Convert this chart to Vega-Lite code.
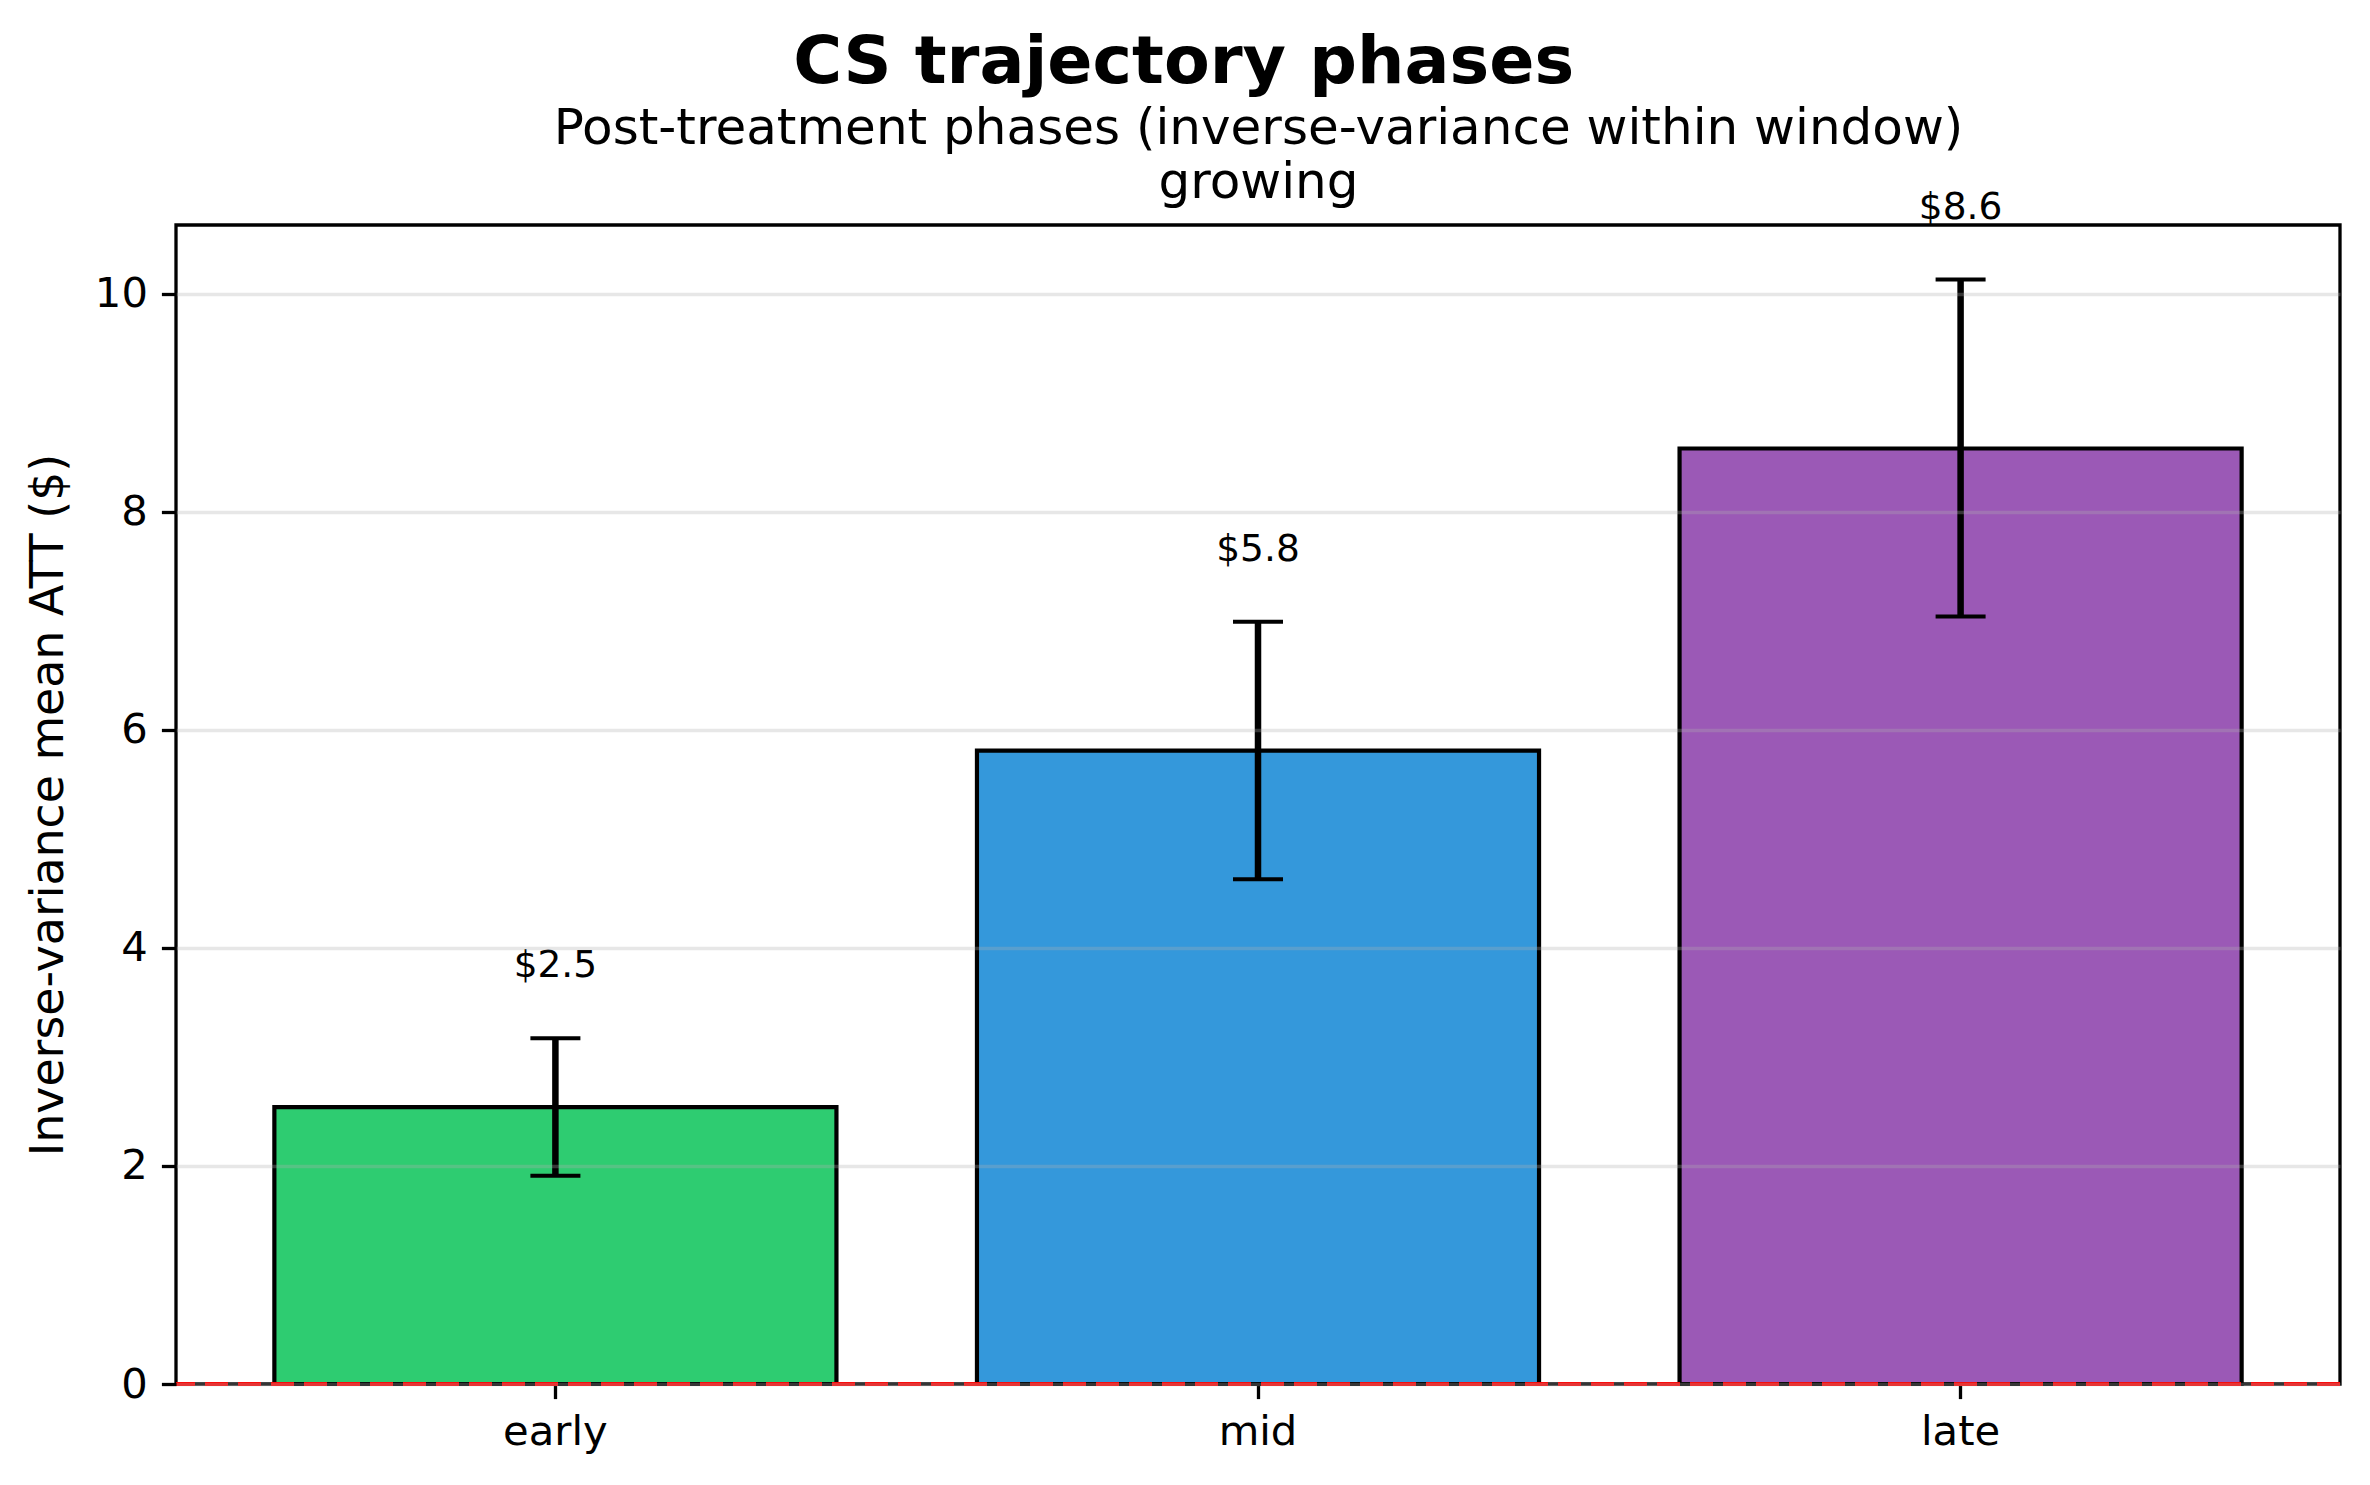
{
  "$schema": "https://vega.github.io/schema/vega-lite/v6.json",
  "width": 2164,
  "height": 1159,
  "autosize": {"type": "none"},
  "padding": {"left": 176, "top": 225, "right": 30, "bottom": 101},
  "background": "white",
  "config": {
    "font": "DejaVu Sans",
    "view": {"stroke": "black", "strokeWidth": 3.3}
  },
  "title": {
    "text": "CS trajectory phases",
    "frame": "bounds",
    "anchor": "middle",
    "font": "DejaVu Sans",
    "fontSize": 66.7,
    "fontWeight": "bold",
    "color": "black",
    "offset": 6
  },
  "data": {
    "values": [
      {"phase": "early", "mean": 2.54, "lower": 1.91, "upper": 3.17, "label": "$2.5"},
      {"phase": "mid", "mean": 5.81, "lower": 4.63, "upper": 6.99, "label": "$5.8"},
      {"phase": "late", "mean": 8.58, "lower": 7.04, "upper": 10.13, "label": "$8.6"}
    ]
  },
  "resolve": {"axis": {"x": "independent"}},
  "layer": [
    {
      "mark": {"type": "bar", "stroke": "black", "strokeWidth": 4.2},
      "encoding": {
        "x": {
          "field": "phase",
          "type": "nominal",
          "sort": ["early", "mid", "late"],
          "scale": {"paddingInner": 0.2, "paddingOuter": 0.14},
          "axis": {
            "orient": "bottom",
            "title": null,
            "labelAngle": 0,
            "labelFont": "DejaVu Sans",
            "labelFontSize": 41.7,
            "labelColor": "black",
            "labelPadding": 13,
            "tickColor": "black",
            "tickWidth": 3.3,
            "tickSize": 14.6,
            "domain": false,
            "grid": false
          }
        },
        "y": {
          "field": "mean",
          "type": "quantitative",
          "scale": {"domain": [0, 10.63], "nice": false, "zero": true},
          "axis": {
            "title": "Inverse-variance mean ATT ($)",
            "titleFont": "DejaVu Sans",
            "titleFontSize": 45.8,
            "titleFontWeight": "normal",
            "titleColor": "black",
            "titlePadding": 22,
            "values": [0, 2, 4, 6, 8, 10],
            "format": "d",
            "labelFont": "DejaVu Sans",
            "labelFontSize": 41.7,
            "labelColor": "black",
            "labelPadding": 14,
            "tickColor": "black",
            "tickWidth": 3.3,
            "tickSize": 14.6,
            "domain": false,
            "grid": true,
            "gridColor": "#b0b0b0",
            "gridOpacity": 0.3,
            "gridWidth": 3.3,
            "zindex": 1
          }
        },
        "color": {
          "field": "phase",
          "type": "nominal",
          "scale": {"domain": ["early", "mid", "late"], "range": ["#2ecc71", "#3498db", "#9b59b6"]},
          "legend": null
        }
      }
    },
    {
      "mark": {"type": "rule", "color": "red", "strokeWidth": 4, "strokeDash": [23, 10], "opacity": 0.8},
      "encoding": {
        "y": {"datum": 0, "type": "quantitative"}
      }
    },
    {
      "mark": {"type": "rule", "color": "black", "strokeWidth": 6.5},
      "encoding": {
        "x": {"field": "phase", "type": "nominal", "sort": ["early", "mid", "late"], "axis": null},
        "y": {"field": "lower", "type": "quantitative"},
        "y2": {"field": "upper"}
      }
    },
    {
      "mark": {"type": "tick", "color": "black", "size": 50, "thickness": 4, "opacity": 1},
      "encoding": {
        "x": {"field": "phase", "type": "nominal", "sort": ["early", "mid", "late"], "axis": null},
        "y": {"field": "lower", "type": "quantitative"}
      }
    },
    {
      "mark": {"type": "tick", "color": "black", "size": 50, "thickness": 4, "opacity": 1},
      "encoding": {
        "x": {"field": "phase", "type": "nominal", "sort": ["early", "mid", "late"], "axis": null},
        "y": {"field": "upper", "type": "quantitative"}
      }
    },
    {
      "mark": {"type": "text", "font": "DejaVu Sans", "fontSize": 37.5, "color": "black", "baseline": "alphabetic", "align": "center", "dy": -61},
      "encoding": {
        "x": {
          "field": "phase",
          "type": "nominal",
          "sort": ["early", "mid", "late"],
          "axis": {
            "orient": "top",
            "title": ["Post-treatment phases (inverse-variance within window)", "growing"],
            "titleFont": "DejaVu Sans",
            "titleFontSize": 50,
            "titleFontWeight": "normal",
            "titleColor": "black",
            "titleLineHeight": 54,
            "titlePadding": 18,
            "labels": false,
            "ticks": false,
            "domain": false,
            "grid": false
          }
        },
        "y": {"field": "upper", "type": "quantitative"},
        "text": {"field": "label"}
      }
    }
  ]
}
